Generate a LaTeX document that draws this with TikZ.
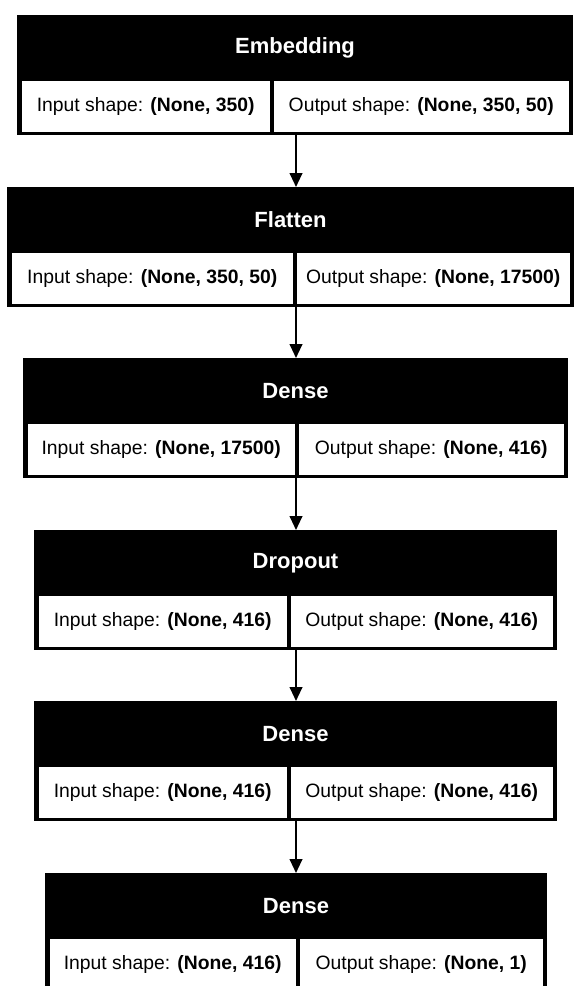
\documentclass[tikz,border=0pt]{standalone}
\usepackage{fontspec}
\setmainfont{Liberation Sans}
\usetikzlibrary{arrows.meta}
\tikzset{
  x=0.75pt, y=-0.75pt,
  boxo/.style={fill=black, draw=none, inner sep=0pt, outer sep=0pt, minimum height=119.5*0.75pt},
  hdr/.style={text=white, inner sep=0pt, font=\fontsize{16.5}{20}\selectfont\bfseries},
  cellb/.style={fill=white, draw=none, inner sep=0pt, outer sep=0pt, minimum height=51*0.75pt, font=\fontsize{14.5}{18}\selectfont},
  arr/.style={line width=1.5pt, -{Triangle[length=10.5pt,width=9.5pt]}, shorten >=0pt}
}
\newcommand\layerbox[8]{%
  \node[boxo, minimum width={(#3-#2)*0.75pt}, anchor=north west] (#1) at (#2,#4) {};
  \node[hdr] (#1h) at ({(#2+#3)/2},{#4+33}) {#6};
  \node[cellb, minimum width={(#5-2-#2-4.5)*0.75pt}, anchor=north west] (#1i) at ({#2+4.5},{#4+65.5}) {Input shape: \textbf{#7}};
  \node[cellb, minimum width={(#3-4.5-#5-2)*0.75pt}, anchor=north west] (#1o) at ({#5+2},{#4+65.5}) {Output shape: \textbf{#8}};
}
\begin{document}
\begin{tikzpicture}
\useasboundingbox[fill=white] (0,0) rectangle (574,986);
\layerbox{b1}{17}{573}{15}{272}{Embedding}{(None, 350)}{(None, 350, 50)}
\layerbox{b2}{7}{574}{187}{295}{Flatten}{(None, 350, 50)}{(None, 17500)}
\layerbox{b3}{23}{568}{358}{297}{Dense}{(None, 17500)}{(None, 416)}
\layerbox{b4}{34}{557}{530}{289}{Dropout}{(None, 416)}{(None, 416)}
\layerbox{b5}{34}{557}{701}{289}{Dense}{(None, 416)}{(None, 416)}
\layerbox{b6}{45}{547}{873}{298}{Dense}{(None, 416)}{(None, 1)}
\coordinate (ax) at (296,0);
\draw[arr] (b1.south -| ax) -- (b2.north -| ax);
\draw[arr] (b2.south -| ax) -- (b3.north -| ax);
\draw[arr] (b3.south -| ax) -- (b4.north -| ax);
\draw[arr] (b4.south -| ax) -- (b5.north -| ax);
\draw[arr] (b5.south -| ax) -- (b6.north -| ax);
\end{tikzpicture}
\end{document}
